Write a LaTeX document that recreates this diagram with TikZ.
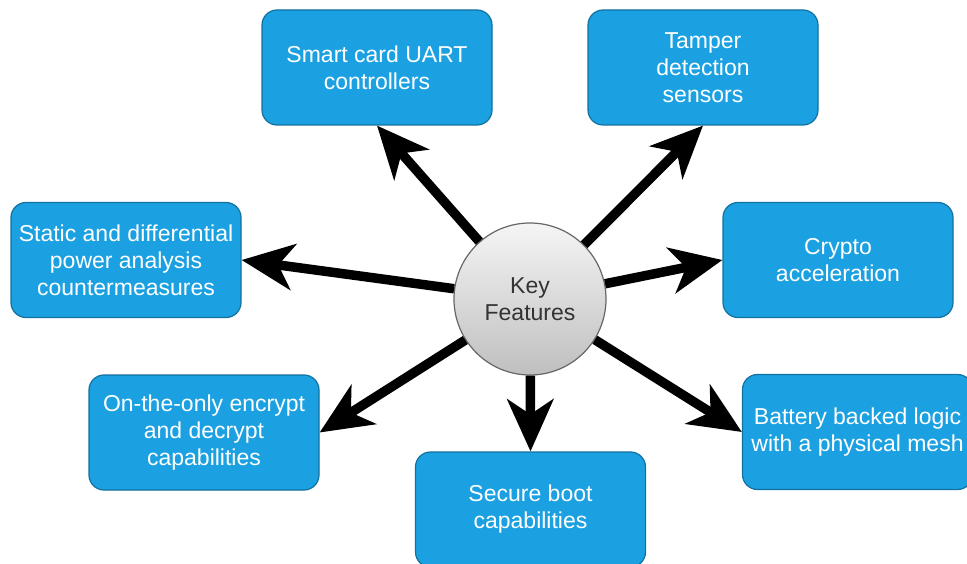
\documentclass[tikz,border=0pt]{standalone}
\usepackage{fontspec}
\setmainfont{Liberation Sans}
\usetikzlibrary{arrows.meta}
\definecolor{boxblue}{HTML}{1BA1E2}
\definecolor{boxline}{HTML}{11719F}
\definecolor{hubline}{HTML}{666666}
\definecolor{hubtext}{HTML}{333333}
\tikzset{
  feature/.style={draw=boxline, line width=1.2pt, fill=boxblue, rounded corners=15pt,
    minimum width=230pt, minimum height=115pt, align=center, text=white,
    font=\fontsize{23}{27}\selectfont, inner sep=2pt},
  hub/.style={circle, draw=hubline, line width=1.2pt, top color=gray!8, bottom color=gray!50,
    minimum size=152pt, align=center, text=hubtext, font=\fontsize{23}{27}\selectfont},
  spoke/.style={line width=9.5pt, draw=black,
    -{Stealth[length=52pt, width=46pt, inset=15pt]}},
}
\begin{document}
\begin{tikzpicture}[x=1pt, y=-1pt]
  \useasboundingbox (0,0) rectangle (967,564);
  \fill[white] (0,0) rectangle (967,564);

  % central hub
  \node[hub] (c) at (530,299) {Key\\Features};

  % feature boxes
  \node[feature] (b1) at (377,67.5) {Smart card UART\\controllers};
  \node[feature] (b2) at (703,67.5) {Tamper\\detection\\sensors};
  \node[feature] (b3) at (126,260) {Static and differential\\power analysis\\countermeasures};
  \node[feature] (b4) at (838,260) {Crypto\\acceleration};
  \node[feature] (b5) at (204,432.5) {On-the-only encrypt\\and decrypt\\capabilities};
  \node[feature] (b6) at (530.5,509.5) {Secure boot\\capabilities};
  \node[feature] (b7) at (857.5,432) {Battery backed logic\\with a physical mesh};

  % spokes from hub to each box
  \draw[spoke] (c) -- (b1.south);
  \draw[spoke] (c) -- (b2.south);
  \draw[spoke] (c) -- (b3.east);
  \draw[spoke] (c) -- (b4.west);
  \draw[spoke] (c) -- (b5.east);
  \draw[spoke] (c) -- (b6.north);
  \draw[spoke] (c) -- (b7.west);
\end{tikzpicture}
\end{document}
